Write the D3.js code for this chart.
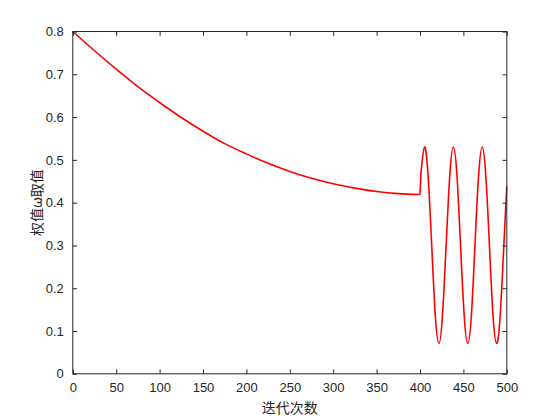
<!DOCTYPE html>
<html><head><meta charset="utf-8">
<script src="https://cdn.jsdelivr.net/npm/d3@7"></script>
<style>body{margin:0;background:#fff}</style>
</head><body>
<script>
// Data
const decayT = [0, 25, 50, 75, 100, 125, 150, 175, 200, 225, 250, 275, 300, 325, 350, 375, 400];
const decayW = [0.800, 0.755, 0.712, 0.671, 0.634, 0.599, 0.567, 0.538, 0.514, 0.492, 0.473, 0.457, 0.444, 0.434, 0.426, 0.421, 0.419];
const oscT = [400, 401, 405.2, 409.3, 413.5, 417.6, 421.8, 425.9, 430.1, 434.3, 438.4, 442.6, 446.7, 450.9, 455.0, 459.2, 463.3, 467.5, 471.7, 475.8, 480.0, 484.1, 488.3, 492.4, 496.6, 500];
const oscW = [0.419, 0.467, 0.530, 0.463, 0.300, 0.137, 0.071, 0.137, 0.300, 0.463, 0.530, 0.463, 0.300, 0.137, 0.071, 0.137, 0.300, 0.463, 0.530, 0.463, 0.300, 0.137, 0.071, 0.137, 0.300, 0.438];
const xTicks = [0, 50, 100, 150, 200, 250, 300, 350, 400, 450, 500];
const yTicks = [0, 0.1, 0.2, 0.3, 0.4, 0.5, 0.6, 0.7, 0.8];
const xLabel = "迭代次数";
const yLabel = "权值ω取值";

(function () {
const W = 560, H = 420;
const L = 72.8, R = 506.8, T = 31.5, B = 373.8;
const svg = d3.select("body").append("svg").attr("width", W).attr("height", H);
const x = d3.scaleLinear().domain([0, 500]).range([L, R]);
const y = d3.scaleLinear().domain([0, 0.8]).range([B, T]);
const axCol = "#262626";
const font = "'Liberation Sans', Arial, sans-serif";

const mono = d3.line().x(d => x(d[0])).y(d => y(d[1])).curve(d3.curveMonotoneX);
const nat = d3.line().x(d => x(d[0])).y(d => y(d[1])).curve(d3.curveNatural);
const straight = d3.line().x(d => x(d[0])).y(d => y(d[1]));
const osc = oscT.map((t, i) => [t, oscW[i]]);
const g = svg.append("g").attr("fill", "none").attr("stroke", "#ff0000").attr("stroke-width", 1.6);
g.append("path").datum(decayT.map((t, i) => [t, decayW[i]])).attr("d", mono);
g.append("path").datum(osc.slice(0, 2)).attr("d", straight);
g.append("path").datum(osc.slice(1)).attr("d", nat);

const tl = 4.3;
const axB = svg.append("g").attr("transform", `translate(0,${B})`)
  .call(d3.axisBottom(x).tickValues(xTicks).tickSize(-tl).tickPadding(9).tickFormat(d3.format("d")));
const axT = svg.append("g").attr("transform", `translate(0,${T})`)
  .call(d3.axisTop(x).tickValues(xTicks).tickSize(-tl).tickFormat(""));
const axL = svg.append("g").attr("transform", `translate(${L},0)`)
  .call(d3.axisLeft(y).tickValues(yTicks).tickSize(-tl).tickPadding(9).tickFormat(d => d === 0 ? "0" : d3.format(".1f")(d)));
const axR = svg.append("g").attr("transform", `translate(${R},0)`)
  .call(d3.axisRight(y).tickValues(yTicks).tickSize(-tl).tickFormat(""));
[axB, axT, axL, axR].forEach(a => {
  a.selectAll(".tick line").attr("stroke", axCol).attr("stroke-width", 1);
  a.selectAll("text").attr("fill", axCol).style("font-family", font).style("font-size", "13px");
});
svg.selectAll(".domain").remove();
svg.append("rect").attr("x", L).attr("y", T).attr("width", R - L).attr("height", B - T)
  .attr("fill", "none").attr("stroke", axCol).attr("stroke-width", 1);

svg.append("text").attr("x", (L + R) / 2).attr("y", 413).attr("text-anchor", "middle")
  .attr("fill", axCol).style("font-family", "'Noto Sans CJK SC', sans-serif").style("font-size", "14px").text(xLabel);
svg.append("text").attr("transform", `translate(42,${(T + B) / 2}) rotate(-90)`).attr("text-anchor", "middle")
  .attr("fill", axCol).style("font-family", "'Noto Sans CJK SC', sans-serif").style("font-size", "14px").text(yLabel);
})();
</script>
</body></html>
